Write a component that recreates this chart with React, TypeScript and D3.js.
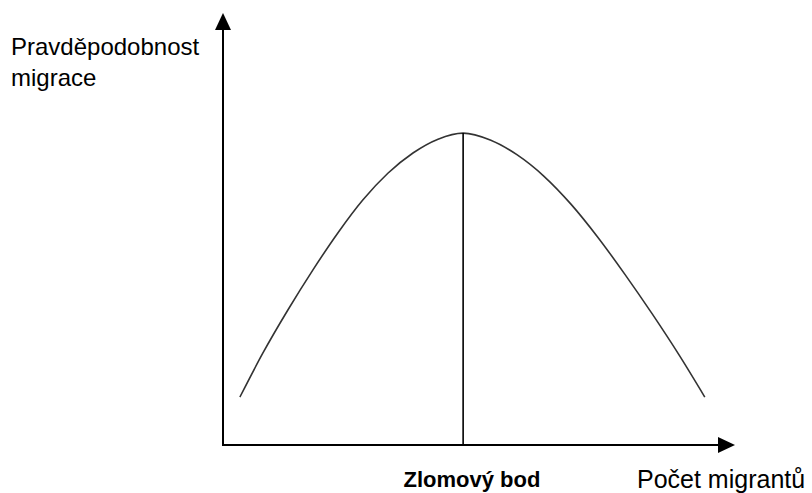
import React, { useEffect, useRef } from 'react';
import * as d3 from 'd3';

// Curve (axis units 0..100)
const migrants = [3.3, 7.8, 12.7, 17.6, 22.5, 27.3, 32.2, 37.1, 42.0, 46.9, 52.2, 57.4, 62.7, 68.0, 73.2, 78.5, 83.8, 89.1, 94.1];
const probability = [11.1, 21.3, 31.3, 40.6, 49.2, 56.7, 62.9, 67.6, 70.8, 72.2, 70.6, 67.2, 62.2, 55.7, 48.1, 39.5, 30.4, 20.8, 11.1];
const breakPoint = 46.9;
const breakPointValue = 72.2;

const yLabelLines = ['Pravděpodobnost', 'migrace'];
const xLabel = 'Počet migrantů';
const breakLabel = 'Zlomový bod';

const W = 812;
const H = 493;

export default function App() {
  const ref = useRef<SVGSVGElement | null>(null);

  useEffect(() => {
    if (!ref.current) return;
    const svg = d3.select(ref.current);
    svg.selectAll('*').remove();

    const x = d3.scaleLinear().domain([0, 100]).range([223, 735]);
    const y = d3.scaleLinear().domain([0, 100]).range([445, 13]);

    const font = '"Liberation Sans", Arial, sans-serif';

    // axes
    const x0 = x(0), y0 = y(0), xEnd = x(100), yEnd = y(100);
    svg.append('path')
      .attr('d', `M${x0},${yEnd + 10}L${x0},${y0}L${xEnd - 10},${y0}`)
      .attr('fill', 'none')
      .attr('stroke', '#000')
      .attr('stroke-width', 2);

    // arrow heads
    svg.append('path')
      .attr('d', `M${x0},${yEnd}L${x0 - 8},${yEnd + 17}L${x0 + 8},${yEnd + 17}Z`)
      .attr('fill', '#000');
    svg.append('path')
      .attr('d', `M${xEnd},${y0}L${xEnd - 17},${y0 - 8}L${xEnd - 17},${y0 + 8}Z`)
      .attr('fill', '#000');

    // curve
    const pts = migrants.map((m, i) => [m, probability[i]] as [number, number]);
    const line = d3.line<[number, number]>()
      .x(d => x(d[0]))
      .y(d => y(d[1]))
      .curve(d3.curveMonotoneX);
    svg.append('path')
      .attr('d', line(pts))
      .attr('fill', 'none')
      .attr('stroke', '#333')
      .attr('stroke-width', 1.6);

    // break point line
    svg.append('line')
      .attr('x1', x(breakPoint)).attr('x2', x(breakPoint))
      .attr('y1', y(breakPointValue)).attr('y2', y0)
      .attr('stroke', '#000')
      .attr('stroke-width', 1.6);

    // labels
    svg.append('text')
      .attr('font-family', font)
      .attr('font-size', 24)
      .attr('fill', '#000')
      .selectAll('tspan')
      .data(yLabelLines)
      .join('tspan')
      .attr('x', 11)
      .attr('y', (d, i) => 55 + i * 31)
      .text(d => d);

    svg.append('text')
      .attr('x', 472)
      .attr('y', 487)
      .attr('text-anchor', 'middle')
      .attr('font-family', font)
      .attr('font-size', 22)
      .attr('font-weight', 'bold')
      .attr('fill', '#000')
      .text(breakLabel);

    svg.append('text')
      .attr('x', 637)
      .attr('y', 488)
      .attr('font-family', font)
      .attr('font-size', 25)
      .attr('fill', '#000')
      .text(xLabel);
  }, []);

  return (
    <svg
      ref={ref}
      width={W}
      height={H}
      style={{ position: 'absolute', left: 0, top: 0, background: '#fff' }}
    />
  );
}
